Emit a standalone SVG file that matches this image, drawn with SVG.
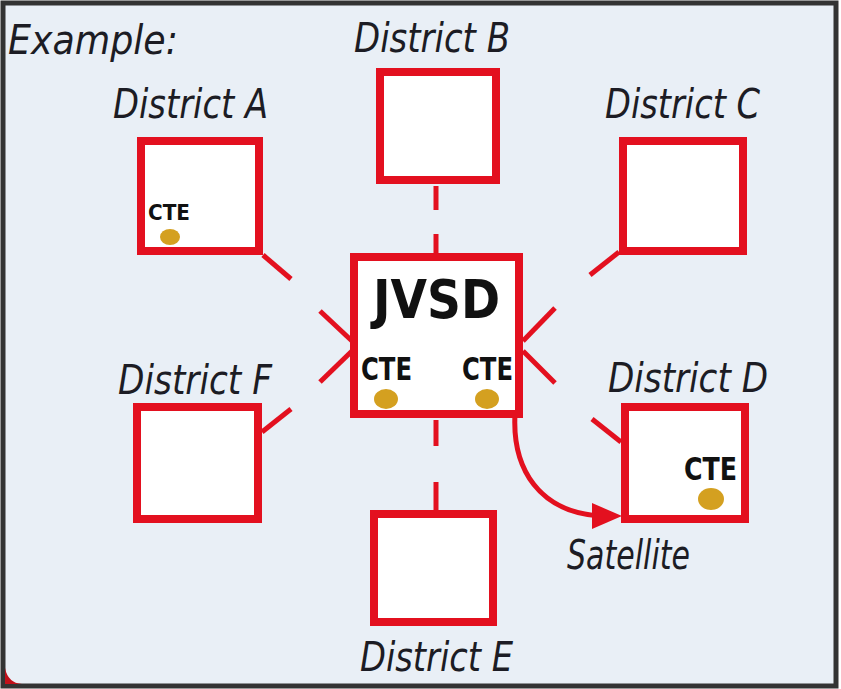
<svg xmlns="http://www.w3.org/2000/svg" width="841" height="689" viewBox="0 0 841 689">
<style>
.box{fill:#ffffff;stroke:#e3101f;stroke-width:8}
.lbl{font-family:"DejaVu Sans Condensed","Liberation Sans Narrow","DejaVu Sans",sans-serif;font-style:italic;font-size:40px;fill:#1c1c24;font-weight:300}
.cte{font-family:"DejaVu Sans Condensed","Liberation Sans Narrow","DejaVu Sans",sans-serif;font-weight:bold;fill:#111}
.dot{fill:#d4a020}
.con{stroke:#e3101f;stroke-width:5;fill:none}
</style>
<defs>
<marker id="arr" viewBox="0 0 10 10" refX="9" refY="5" markerWidth="5" markerHeight="5" orient="auto" markerUnits="strokeWidth">
<path d="M0,0 L10,5 L0,10 z" fill="#e3101f"/>
</marker>
</defs>
<rect x="3" y="3" width="833" height="683" fill="#e9eff6" stroke="#333" stroke-width="5"/>
<path d="M5,668 Q8,683 22,684 L5,684 z" fill="#c0101a"/>
<text class="lbl" x="8" y="54" textLength="170" lengthAdjust="spacingAndGlyphs">Example:</text>

<g id="connectors">
<line class="con" x1="436" y1="186" x2="436" y2="210"/>
<line class="con" x1="436" y1="234" x2="436" y2="253"/>
<line class="con" x1="436" y1="420" x2="436" y2="446"/>
<line class="con" x1="436" y1="482" x2="436" y2="510"/>
<line class="con" x1="263" y1="255" x2="291" y2="279"/>
<line class="con" x1="320" y1="311" x2="352" y2="341"/>
<line class="con" x1="262" y1="432" x2="291" y2="409"/>
<line class="con" x1="320" y1="382" x2="352" y2="351"/>
<line class="con" x1="619" y1="252" x2="590" y2="275"/>
<line class="con" x1="555" y1="308" x2="523" y2="341"/>
<line class="con" x1="621" y1="442" x2="592" y2="419"/>
<line class="con" x1="555" y1="383" x2="523" y2="351"/>
<path class="con" d="M515,414 C512,470 540,512 600,516" stroke-width="4"/>
<path d="M592,503 L622,516 L592,529 z" fill="#e3101f"/>
</g>

<g id="districtA">
<rect class="box" x="141" y="141" width="118" height="110"/>
<text class="cte" x="148" y="220" font-size="22" textLength="42" lengthAdjust="spacingAndGlyphs">CTE</text>
<ellipse class="dot" cx="170" cy="237" rx="10" ry="8"/>
<text class="lbl" x="113" y="118" textLength="155" lengthAdjust="spacingAndGlyphs">District A</text>
</g>
<g id="districtB">
<rect class="box" x="380" y="72" width="116" height="108"/>
<text class="lbl" x="354" y="52" textLength="156" lengthAdjust="spacingAndGlyphs">District B</text>
</g>
<g id="districtC">
<rect class="box" x="623" y="141" width="120" height="110"/>
<text class="lbl" x="605" y="118" textLength="155" lengthAdjust="spacingAndGlyphs">District C</text>
</g>
<g id="jvsd">
<rect class="box" x="354" y="257" width="165" height="157"/>
<text class="cte" x="373" y="318" font-size="54" textLength="127" lengthAdjust="spacingAndGlyphs">JVSD</text>
<text class="cte" x="361" y="380" font-size="32" textLength="51" lengthAdjust="spacingAndGlyphs">CTE</text>
<text class="cte" x="462" y="380" font-size="32" textLength="51" lengthAdjust="spacingAndGlyphs">CTE</text>
<ellipse class="dot" cx="386" cy="399" rx="12" ry="10"/>
<ellipse class="dot" cx="487" cy="399" rx="12" ry="10"/>
</g>
<g id="districtF">
<rect class="box" x="137" y="407" width="121" height="112"/>
<text class="lbl" x="118" y="394" textLength="154" lengthAdjust="spacingAndGlyphs">District F</text>
</g>
<g id="districtD">
<rect class="box" x="625" y="407" width="120" height="112"/>
<text class="cte" x="684" y="480" font-size="32" textLength="53" lengthAdjust="spacingAndGlyphs">CTE</text>
<ellipse class="dot" cx="711" cy="499" rx="13" ry="11"/>
<text class="lbl" x="608" y="392" textLength="160" lengthAdjust="spacingAndGlyphs">District D</text>
</g>
<g id="districtE">
<rect class="box" x="374" y="514" width="119" height="108"/>
<text class="lbl" x="360" y="671" textLength="153" lengthAdjust="spacingAndGlyphs">District E</text>
</g>
<g id="satellite">
<text class="lbl" x="567" y="569" font-size="36" textLength="123" lengthAdjust="spacingAndGlyphs">Satellite</text>
</g>
</svg>
